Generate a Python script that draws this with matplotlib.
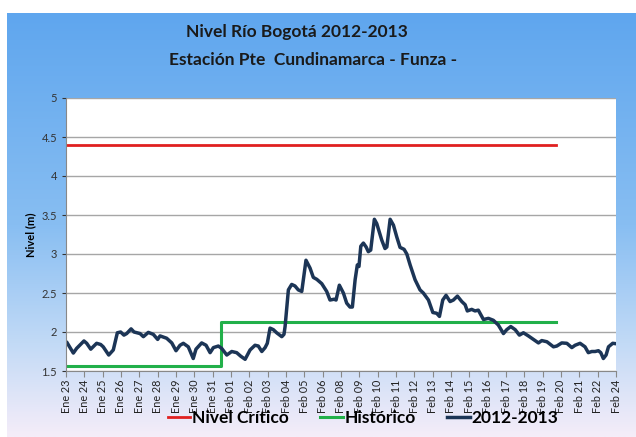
import numpy as np
import matplotlib
matplotlib.use("Agg")
import matplotlib.pyplot as plt
from matplotlib.colors import LinearSegmentedColormap

# tick labels of the category axis (as printed in the original)
etiquetas = ["Ene 23", "Ene 24", "Ene 25", "Ene 26", "Ene 27", "Ene 28", "Ene 29",
             "Ene 30", "Ene 31", "Feb 01", "Feb 02", "Feb 03", "Feb 04", "Feb 05",
             "Feb 06", "Feb 08", "Feb 09", "Feb 10", "Feb 11", "Feb 12", "Feb 13",
             "Feb 14", "Feb 15", "Feb 16", "Feb 17", "Feb 18", "Feb 19", "Feb 20",
             "Feb 21", "Feb 22", "Feb 24"]

# reference levels
nivel_critico = 4.4
critico_pos = [0, 26.7]
historico_pos = [0, 8.45, 8.45, 26.7]
historico_val = [1.57, 1.57, 2.13, 2.13]

# 2012-2013 series (position along the category axis, level in m)
pos = [0.0, 0.04, 0.40, 0.58, 0.98, 1.13, 1.35, 1.67, 1.89, 2.03, 2.33, 2.58, 2.80,
       2.98, 3.16, 3.31, 3.55, 3.71, 4.04, 4.22, 4.49, 4.76, 5.00, 5.13, 5.49, 5.77,
       6.00, 6.22, 6.40, 6.67, 6.94, 7.09, 7.40, 7.64, 7.86, 8.04, 8.31, 8.49, 8.77,
       9.04, 9.31, 9.53, 9.77, 10.04, 10.31, 10.49, 10.68, 10.86, 10.98, 11.13, 11.31,
       11.49, 11.77, 11.89, 11.95, 12.13, 12.31, 12.49, 12.67, 12.86, 13.09, 13.31,
       13.49, 13.68, 13.95, 14.22, 14.40, 14.62, 14.73, 14.91, 15.13, 15.31, 15.49,
       15.62, 15.77, 15.89, 15.98, 16.08, 16.22, 16.37, 16.49, 16.62, 16.82, 16.95,
       17.22, 17.40, 17.50, 17.68, 17.86, 18.04, 18.22, 18.44, 18.59, 18.77, 19.04,
       19.31, 19.49, 19.77, 20.01, 20.22, 20.37, 20.55, 20.73, 20.95, 21.13, 21.35,
       21.59, 21.77, 21.89, 22.13, 22.31, 22.49, 22.77, 23.04, 23.31, 23.58, 23.86,
       24.04, 24.26, 24.50, 24.73, 24.95, 25.22, 25.50, 25.77, 25.95, 26.23, 26.59,
       26.77, 27.04, 27.32, 27.59, 27.77, 28.04, 28.31, 28.49, 28.68, 28.86, 29.04,
       29.17, 29.31, 29.46, 29.59, 29.82, 30.0]
nivel = [1.87, 1.87, 1.73, 1.79, 1.885, 1.855, 1.78, 1.855, 1.84, 1.81, 1.705, 1.77,
         1.99, 2.00, 1.96, 1.98, 2.04, 2.00, 1.98, 1.94, 1.995, 1.97, 1.905, 1.95, 1.92,
         1.86, 1.76, 1.83, 1.855, 1.81, 1.66, 1.78, 1.86, 1.83, 1.735, 1.80, 1.82, 1.79,
         1.705, 1.75, 1.735, 1.69, 1.65, 1.77, 1.83, 1.82, 1.75, 1.80, 1.855, 2.05, 2.03,
         1.99, 1.94, 1.97, 2.07, 2.54, 2.61, 2.59, 2.54, 2.52, 2.92, 2.82, 2.70, 2.675,
         2.62, 2.52, 2.41, 2.42, 2.41, 2.60, 2.50, 2.37, 2.32, 2.32, 2.67, 2.86, 2.84,
         3.10, 3.14, 3.09, 3.03, 3.05, 3.445, 3.39, 3.18, 3.07, 3.09, 3.445, 3.37, 3.22,
         3.085, 3.06, 3.00, 2.86, 2.67, 2.54, 2.50, 2.41, 2.25, 2.24, 2.20, 2.41, 2.47,
         2.39, 2.41, 2.46, 2.39, 2.35, 2.27, 2.29, 2.27, 2.28, 2.16, 2.175, 2.15, 2.09,
         1.98, 2.03, 2.07, 2.03, 1.96, 1.99, 1.95, 1.905, 1.86, 1.89, 1.875, 1.81, 1.82,
         1.86, 1.855, 1.80, 1.83, 1.855, 1.81, 1.735, 1.75, 1.75, 1.76, 1.735, 1.66,
         1.705, 1.81, 1.855, 1.85]

plt.rcParams['font.family'] = ['Lato', 'DejaVu Sans']

fig = plt.figure(figsize=(6.36, 4.37), dpi=100)
fig.patch.set_facecolor("white")

# gradient panel behind the chart
bg = fig.add_axes([7 / 636, 0, 1 - 7 / 636, 1 - 13 / 437], zorder=-10)
cmap = LinearSegmentedColormap.from_list(
    "fondo", [(0.0, "#5fa6ee"), (0.5, "#88bef2"), (0.78, "#c2daf6"), (1.0, "#f5edf9")])
bg.imshow(np.linspace(0, 1, 256).reshape(-1, 1), aspect="auto", cmap=cmap,
          extent=[0, 1, 0, 1], origin="upper")
bg.set_axis_off()

ax = fig.add_axes([66 / 636, 1 - 371 / 437, 550 / 636, 273 / 437])
ax.set_facecolor("white")
ax.set_xlim(0, 30)
ax.set_ylim(1.5, 5)
ax.set_yticks(np.arange(1.5, 5.01, 0.5))
ax.yaxis.set_major_formatter(plt.FormatStrFormatter("%g"))
ax.grid(axis="y", color="#a6a6a6", lw=1)
ax.set_axisbelow(True)

ax.plot(critico_pos, [nivel_critico, nivel_critico], color="#e02020", lw=2,
        label="Nivel Crítico")
ax.plot(historico_pos, historico_val, color="#22b04a", lw=2.2, label="Histórico")
ax.plot(pos, nivel, color="#1c3556", lw=2.5, label="2012-2013")

ax.set_xticks(range(len(etiquetas)))
ax.set_xticklabels(etiquetas, rotation=90, fontsize=7.8, color="#222222")
ax.tick_params(axis="y", labelsize=8, colors="#333333", length=3)
ax.tick_params(axis="x", length=4, color="#888888", pad=2)
for s in ["top", "right"]:
    ax.spines[s].set_visible(False)
for s in ["left", "bottom"]:
    ax.spines[s].set_color("#888888")
ax.set_ylabel("Nivel (m)", fontsize=8, fontweight="bold", labelpad=4)

fig.text(0.467, 1 - 32 / 437, "Nivel Río Bogotá 2012-2013", ha="center", va="center",
         fontsize=12.5, fontweight="bold", color="#1a1a1a")
fig.text(0.492, 1 - 60 / 437, "Estación Pte  Cundinamarca - Funza -", ha="center",
         va="center", fontsize=12.5, fontweight="bold", color="#1a1a1a")

fig.legend(loc="center", bbox_to_anchor=(363 / 636, 1 - 418 / 437), ncol=3,
           frameon=False, prop={"size": 12.5, "weight": "bold"}, handlelength=1.3,
           handletextpad=0.1, columnspacing=1.8)

fig.savefig("out.png", dpi=100)
